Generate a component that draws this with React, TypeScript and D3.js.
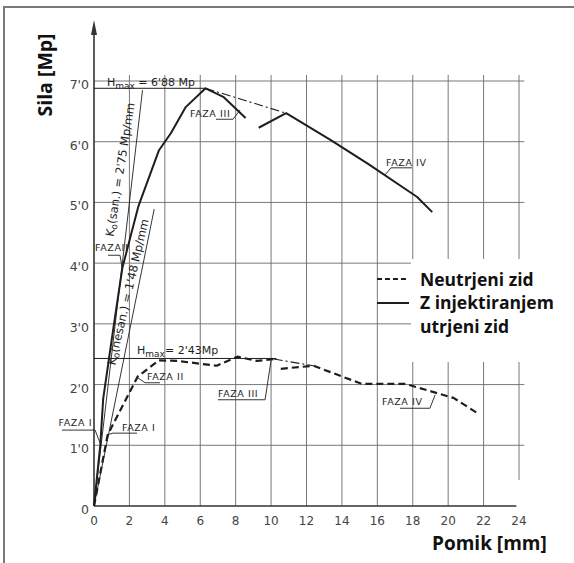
import * as d3 from "d3";

// displacement [mm] / force [Mp]
const solidX1 = [0, 0.36, 0.52, 1.13, 1.6, 2.5, 3.67, 4.34, 5.18, 6.3, 7.3, 8.56];
const solidY1 = [0, 1.02, 1.77, 3.0, 3.92, 4.93, 5.86, 6.14, 6.57, 6.88, 6.74, 6.39];
const solidX2 = [9.3, 10.85, 13.35, 15.5, 18.25, 19.1];
const solidY2 = [6.23, 6.47, 6.03, 5.63, 5.09, 4.84];
const solidEnvX = [6.3, 10.85];
const solidEnvY = [6.88, 6.47];

const dashX1 = [0, 0.77, 2.46, 3.66, 4.7, 6.93, 8.1, 9.2, 10.15];
const dashY1 = [0, 1.17, 2.13, 2.4, 2.39, 2.31, 2.46, 2.39, 2.42];
const dashX2 = [10.55, 12.4, 15.13, 17.6, 20.3, 21.6];
const dashY2 = [2.26, 2.31, 2.01, 2.01, 1.78, 1.54];
const dashEnvX = [10.15, 12.4];
const dashEnvY = [2.42, 2.31];

// secant stiffness lines (end points)
const kSanX = [0, 2.74];
const kSanY = [0, 6.85];
const kNesanX = [0, 3.4];
const kNesanY = [0, 4.89];

const hMaxSolid = 6.88;
const hMaxDash = 2.43;

const xTicks = [0, 2, 4, 6, 8, 10, 12, 14, 16, 18, 20, 22, 24];
const yTicks = [0, 1, 2, 3, 4, 5, 6, 7];
const yTickLabels = ["0", "1'0", "2'0", "3'0", "4'0", "5'0", "6'0", "7'0"];

const legendLabels = ["Neutrjeni zid", "Z injektiranjem", "utrjeni zid"];

// phase labels: text, anchor, leader polyline
const fazaText = ["FAZA I", "FAZA I", "FAZA II", "FAZA III", "FAZA IV", "FAZAII", "FAZA III", "FAZA IV"];
const fazaAt = [[-0.11, 1.32], [1.58, 1.24], [2.99, 2.08], [7.0, 1.8], [16.26, 1.66], [0.06, 4.2], [5.42, 6.41], [16.49, 5.6]];
const fazaAnchor = ["end", "start", "start", "start", "start", "start", "start", "start"];
const fazaLeader = [
  [[-1.81, 1.25], [0.06, 1.25], [0.34, 1.04]],
  [[0.73, 1.17], [1.07, 1.2], [2.43, 1.2]],
  [[2.43, 2.12], [2.88, 2.03], [3.73, 2.03]],
  [[7.0, 1.75], [9.66, 1.75], [10.0, 2.4]],
  [[17.28, 1.61], [18.97, 1.61], [19.26, 1.83]],
  [[0.79, 4.13], [1.47, 4.13], [1.58, 3.94]],
  [[6.89, 6.37], [7.85, 6.37], [8.24, 6.52]],
  [[16.43, 5.45], [16.77, 5.57], [17.96, 5.57]],
];

const W = 574;
const H = 563;
const x = d3.scaleLinear().domain([0, 24]).range([94, 519]);
const y = d3.scaleLinear().domain([0, 7]).range([506, 81]);

const line = d3.line<number[]>().x((d) => x(d[0])).y((d) => y(d[1]));
const zip = (a: number[], b: number[]) => a.map((v, i) => [v, b[i]]);

const ink = "#1e1e1e";
const grid = "#6a6a6a";
const tech = "DejaVu Sans, sans-serif";
const bold = "'Open Sans', sans-serif";

export default function App() {
  return (
    <svg width={W} height={H} style={{ position: "absolute", left: 0, top: 0, background: "#fff" }}>
      <rect x={4} y={7} width={W + 4} height={H + 10} fill="#fff" stroke="#7a7a7a" strokeWidth={2} />

      {/* grid */}
      <g stroke={grid} strokeWidth={0.9}>
        {yTicks.slice(1).map((t) => (
          <line key={"h" + t} x1={x(0)} x2={x(24.3)} y1={y(t)} y2={y(t)} />
        ))}
        {xTicks.slice(1).map((t) => (
          <line key={"v" + t} x1={x(t)} x2={x(t)} y1={y(t === 24 ? 0.43 : 0)} y2={y(7.1)} />
        ))}
      </g>
      {/* legend backdrop hides the grid */}
      <rect x={411} y={259} width={160} height={103} fill="#fff" />

      {/* axes */}
      <g stroke="#333" strokeWidth={1.6} fill="none">
        <line x1={x(0)} x2={x(23.85)} y1={y(0)} y2={y(0)} />
        <line x1={x(0)} x2={x(0)} y1={y(0)} y2={30} />
      </g>
      <path d={`M${x(0)},20 L${x(0) - 3},35 L${x(0) + 3},35 Z`} fill="#333" />

      {yTicks.map((t, i) => (
        <text key={"yt" + t} x={89} y={y(t) + 8} textAnchor="end" fontFamily={tech} fontSize={12.5} fill="#444">
          {yTickLabels[i]}
        </text>
      ))}
      {xTicks.map((t) => (
        <text key={"xt" + t} x={x(t)} y={525} textAnchor="middle" fontFamily={tech} fontSize={12} fill="#444">
          {t}
        </text>
      ))}

      {/* H max lines */}
      <g stroke={ink} strokeWidth={1}>
        <line x1={x(0)} x2={x(6.3)} y1={y(hMaxSolid)} y2={y(hMaxSolid)} />
        <line x1={x(0)} x2={x(10.3)} y1={y(hMaxDash)} y2={y(hMaxDash)} />
      </g>
      <text x={x(0.73)} y={y(6.92)} fontFamily={tech} fontSize={11} fill={ink}>
        H<tspan fontSize={9} dy={3}>max</tspan>
        <tspan dy={-3}> = 6'88 Mp</tspan>
      </text>
      <text x={x(2.43)} y={y(2.5)} fontFamily={tech} fontSize={11} fill={ink}>
        H<tspan fontSize={9} dy={3}>max</tspan>
        <tspan dy={-3}>= 2'43Mp</tspan>
      </text>

      {/* stiffness lines */}
      <g stroke={ink} strokeWidth={0.9} fill="none">
        <path d={line(zip(kSanX, kSanY))!} />
        <path d={line(zip(kNesanX, kNesanY))!} />
      </g>
      <text
        transform={`translate(${x(1.81) - 2},${y(5.53)}) rotate(-81)`}
        textAnchor="middle"
        fontFamily={tech}
        fontSize={11.5}
        fill={ink}
      >
        K<tspan fontSize={9} dy={2}>o</tspan>
        <tspan dy={-2}>(san.) = 2'75 Mp/mm</tspan>
      </text>
      <text
        transform={`translate(${x(2.2) - 1},${y(3.51)}) rotate(-77)`}
        textAnchor="middle"
        fontFamily={tech}
        fontSize={11.5}
        fill={ink}
      >
        K<tspan fontSize={9} dy={2}>o</tspan>
        <tspan dy={-2}>(nesan.) = 1'48 Mp/mm</tspan>
      </text>

      {/* curves */}
      <g fill="none" stroke={ink} strokeLinejoin="round">
        <path d={line(zip(solidX1, solidY1))!} strokeWidth={2} />
        <path d={line(zip(solidX2, solidY2))!} strokeWidth={2} />
        <path d={line(zip(solidEnvX, solidEnvY))!} strokeWidth={1.1} strokeDasharray="9,3,2,3" />
        <path d={line(zip(dashX1, dashY1))!} strokeWidth={2.2} strokeDasharray="7,4" />
        <path d={line(zip(dashX2, dashY2))!} strokeWidth={2.2} strokeDasharray="7,4" />
        <path d={line(zip(dashEnvX, dashEnvY))!} strokeWidth={1.1} strokeDasharray="9,3,2,3" />
      </g>

      {/* phase labels */}
      <g fill="none" stroke={ink} strokeWidth={0.9}>
        {fazaLeader.map((pts, i) => (
          <path key={"fl" + i} d={line(pts)!} />
        ))}
      </g>
      {fazaText.map((t, i) => (
        <text
          key={"ft" + i}
          x={x(fazaAt[i][0])}
          y={y(fazaAt[i][1])}
          textAnchor={fazaAnchor[i]}
          fontFamily={tech}
          fontSize={9.5}
          letterSpacing={0.6}
          fill={ink}
        >
          {t}
        </text>
      ))}

      {/* legend */}
      <line x1={377} x2={409} y1={279} y2={279} stroke={ink} strokeWidth={2} strokeDasharray="5,3" />
      <line x1={377} x2={409} y1={303} y2={303} stroke={ink} strokeWidth={2} />
      <g fontFamily={bold} fontWeight={700} fontSize={17.5} fill="#111">
        {legendLabels.map((t, i) => (
          <text key={t} x={420} y={285.5 + i * 23.8}>
            {t}
          </text>
        ))}
      </g>

      {/* axis titles */}
      <text x={432} y={550} fontFamily={bold} fontWeight={700} fontSize={19} fill="#111">
        Pomik [mm]
      </text>
      <text
        transform={`translate(52,75) rotate(-90)`}
        textAnchor="middle"
        fontFamily={bold}
        fontWeight={700}
        fontSize={19.5}
        fill="#111"
      >
        Sila [Mp]
      </text>
    </svg>
  );
}
